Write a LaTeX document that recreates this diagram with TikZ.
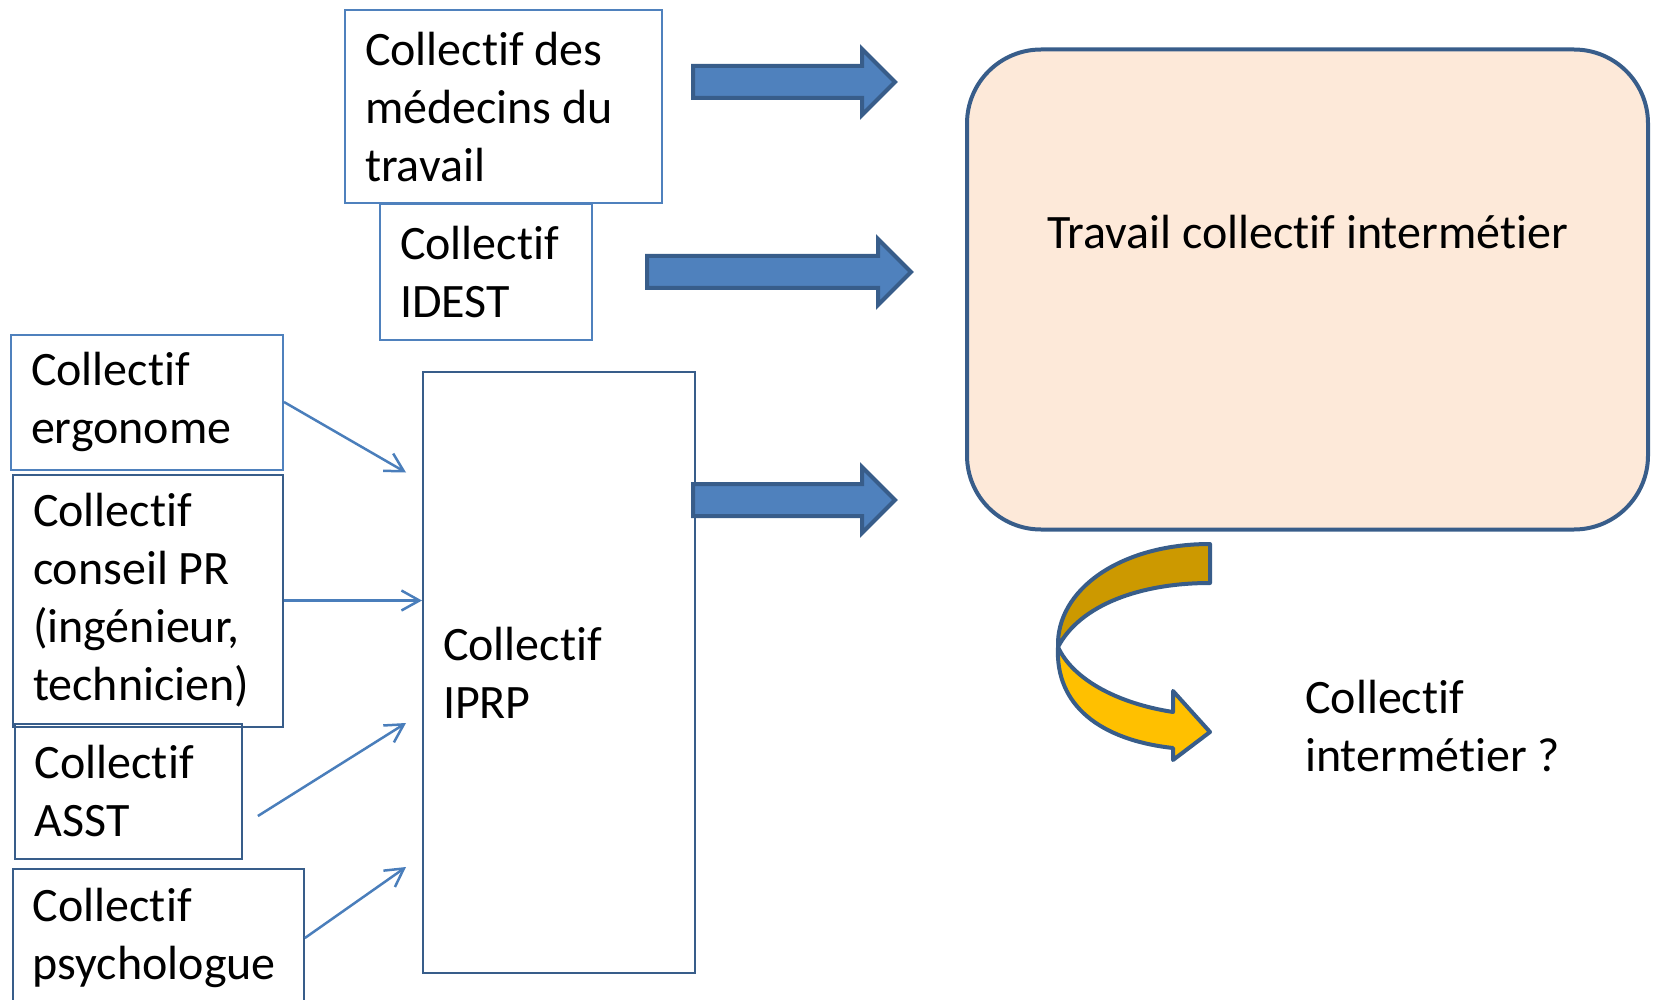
\documentclass[tikz,border=0pt]{standalone}
\usepackage{fontspec}
\setmainfont{Carlito}[Ligatures=NoCommon]
\usetikzlibrary{calc,arrows.meta}
\definecolor{boxblue}{HTML}{4F81BD}
\definecolor{darkblue}{HTML}{385D8A}
\definecolor{linkblue}{HTML}{4A7EBB}
\definecolor{peach}{HTML}{FDE9D9}
\definecolor{gold}{HTML}{CC9900}
\definecolor{amber}{HTML}{FFC000}
\tikzset{
  lightbox/.style={draw=boxblue, line width=2pt, inner xsep=20pt, inner ysep=0pt, align=flush left, font=\fontsize{48}{58}\selectfont},
  darkbox/.style={lightbox, draw=darkblue},
  feed/.style={draw=linkblue, line width=2.5pt, -{Straight Barb[length=18pt,width=20pt]}},
  blockarrow/.style={fill=boxblue, draw=darkblue, line width=4pt},
  band/.style={draw=darkblue, line width=4pt, line join=round}
}
\def\blockarrow(#1)(#2){\draw[blockarrow] ($(#1)+(0,16)$) -- ($(#2)+(-33,16)$) -- ($(#2)+(-33,33)$) -- (#2) -- ($(#2)+(-33,-33)$) -- ($(#2)+(-33,-16)$) -- ($(#1)+(0,-16)$) -- cycle;}

\begin{document}
\begin{tikzpicture}[x=1pt,y=-1pt]
		%%%%% START %%%%%
		\useasboundingbox (0,0) rectangle (1654,1000);
		\clip (0,0) rectangle (1654,1000);
		
		\node[lightbox, text width=277pt, minimum height=193pt] (medecins) at (503.5,107) {Collectif des\\médecins du\\travail};
		\node[lightbox, text width=172pt, minimum height=136pt] (idest) at (486,272) {Collectif\\IDEST};
		
		\node[lightbox, text width=232pt, minimum height=135pt] (ergo) at (147,402) {Collectif\\ergonome};
		\node[darkbox, text width=230pt, minimum height=252pt] (conseil) at (148,600.5) {Collectif\\conseil PR\\(ingénieur,\\technicien)};
		\node[darkbox, text width=187pt, minimum height=135pt] (asst) at (128.4,791) {Collectif\\ASST};
		\node[darkbox, text width=251pt, minimum height=138pt] (psycho) at (158.4,938) {Collectif\\psychologue};
		
		\node[darkbox, text width=232pt, minimum height=601pt] (iprp) at (559,672.5) {Collectif\\IPRP};
		
		% big box on the right
		\node[draw=darkblue, fill=peach, line width=4pt, rounded corners=74pt, minimum width=681pt, minimum height=480pt] (travail) at (1307.5,289.5) {};
		\node[font=\fontsize{48}{58}\selectfont] (travaillbl) at ($(travail.north)+(0,185)$) {Travail collectif intermétier};
		
		\node[font=\fontsize{48}{58}\selectfont, align=flush left, anchor=west, inner sep=0pt] (question) at (1305,726) {Collectif\\intermétier ?};
		
		% thin arrows into IPRP
		\coordinate (ergoin) at ($(iprp.north west)+(-16,101.5)$);
		\coordinate (asstout) at ($(asst.east)+(15,25)$);
		\coordinate (asstin) at ($(iprp.north west)+(-16,352)$);
		\coordinate (psychoin) at ($(iprp.north west)+(-16,496)$);
		\draw[feed] (ergo.east) -- (ergoin);
		\draw[feed] (conseil.east) -- (conseil.east -| iprp.west);
		\draw[feed] (asstout) -- (asstin);
		\draw[feed] (psycho.east) -- (psychoin);
		
		% block arrows
		\coordinate (m0) at (693,82);
		\coordinate (m1) at (895,82);
		\coordinate (i0) at (647,272);
		\coordinate (i1) at (911,272);
		\coordinate (p0) at (693,500);
		\coordinate (p1) at (895,500);
		\blockarrow(m0)(m1)
		\blockarrow(i0)(i1)
		\blockarrow(p0)(p1)
		
		% curved arrow
		\draw[band, fill=gold] (1210,544) .. controls (1120,544) and (1056,590) .. (1058,647) .. controls (1080,605) and (1140,583) .. (1210,583) -- cycle;
		\draw[band, fill=amber] (1058,647) .. controls (1055,705) and (1100,740) .. (1173,748) -- (1173,760) -- (1210,732) -- (1173,691) -- (1173,712) .. controls (1115,703) and (1072,678) .. (1058,647) -- cycle;
		
		%%%%% END %%%%%
	\end{tikzpicture}
\end{document}
